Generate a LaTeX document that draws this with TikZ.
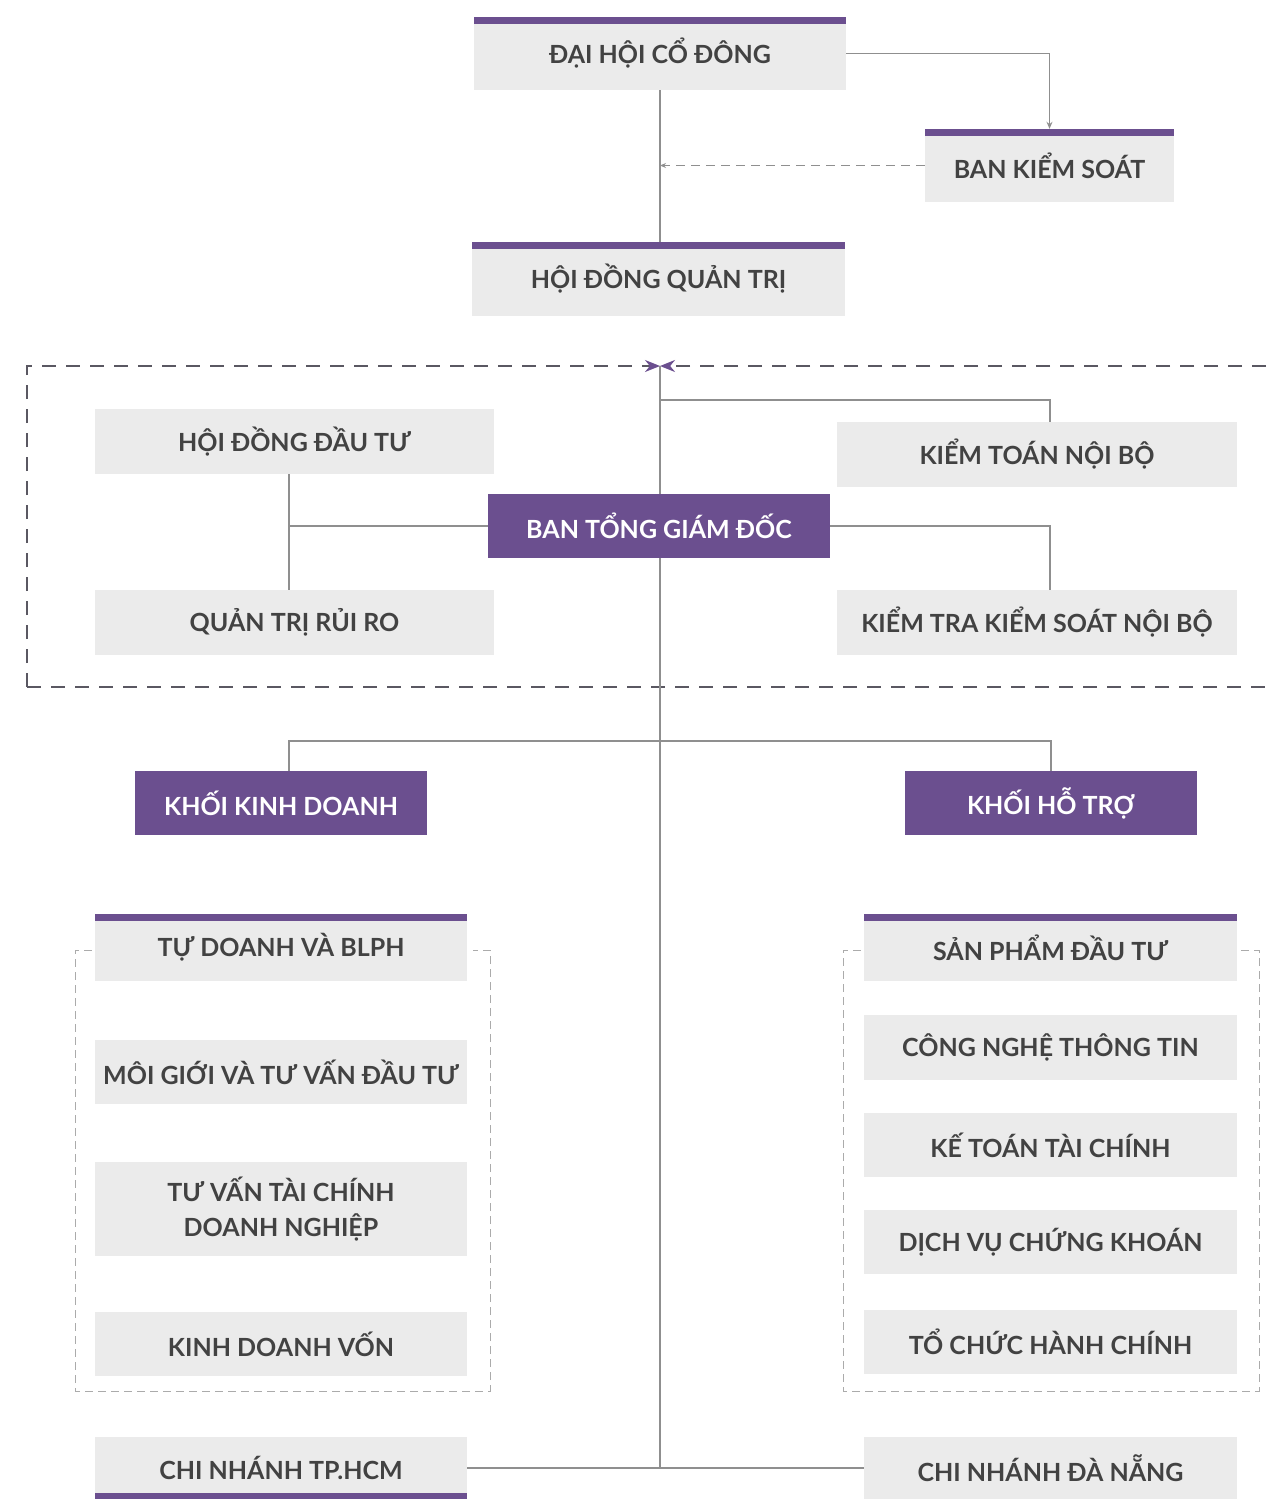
\documentclass[tikz,border=0pt]{standalone}
\usepackage{fontspec}
\setmainfont{Lato}
\usetikzlibrary{arrows.meta}
\definecolor{orgpurple}{HTML}{6B4F8F}
\definecolor{orggray}{HTML}{EBEBEB}
\definecolor{orgtext}{HTML}{424242}
\definecolor{orgline}{HTML}{8F8F8F}
\definecolor{orgframe}{HTML}{5A5862}
\definecolor{orgdash}{HTML}{ABABAB}

\begin{document}
\begin{tikzpicture}[x=1pt,y=-1pt,
  box/.style={fill=orggray, text=orgtext, inner sep=0pt, align=center,
    font=\fontsize{25}{35}\selectfont\bfseries},
  headbox/.style={box, fill=orgpurple, text=white},
  topbar/.style={path picture={\fill[orgpurple] (path picture bounding box.north west)
    rectangle ([yshift=-7pt]path picture bounding box.north east);}},
  bottombar/.style={path picture={\fill[orgpurple] (path picture bounding box.south west)
    rectangle ([yshift=6pt]path picture bounding box.south east);}},
  conn/.style={draw=orgline, line width=1.2pt},
  frame/.style={draw=orgframe, line width=2pt, dash pattern=on 14pt off 10pt},
  group/.style={draw=orgdash, line width=1pt, dash pattern=on 8pt off 5pt}]
  \useasboundingbox (0,0) rectangle (1269,1499);
  \clip (0,0) rectangle (1269,1499);

  % governance
  \node[box, topbar, minimum width=372pt, minimum height=73pt] (dhcd) at (660,53.5) {ĐẠI HỘI CỔ ĐÔNG};
  \node[box, topbar, minimum width=249pt, minimum height=73pt] (bks) at (1049.5,165.5) {BAN KIỂM SOÁT};
  \node[box, topbar, minimum width=373pt, minimum height=74pt] (hdqt) at (658.5,279) {HỘI ĐỒNG QUẢN TRỊ};

  \draw[conn, -{Stealth[length=7pt,width=6pt]}] (dhcd.east) -| (bks.north);
  \draw[conn] (dhcd.south) -- (dhcd.south |- hdqt.north);
  \draw[conn, dash pattern=on 9pt off 6pt, -{Stealth[length=6pt,width=5pt]}] (bks.west) -- (bks.west -| dhcd.south);

  % executive block
  \coordinate (gate) at (660,366);
  \coordinate (spineA) at (660,400);
  \coordinate (spineB) at (660,741);
  \node[box, minimum width=399pt, minimum height=65pt] (hddt) at (294.5,441.5) {HỘI ĐỒNG ĐẦU TƯ};
  \node[box, minimum width=399pt, minimum height=65pt] (qtrr) at (294.5,622.5) {QUẢN TRỊ RỦI RO};
  \node[box, minimum width=400pt, minimum height=65pt] (ktnb) at (1037,454.5) {KIỂM TOÁN NỘI BỘ};
  \node[box, minimum width=400pt, minimum height=65pt] (ktks) at (1037,622.5) {KIỂM TRA KIỂM SOÁT NỘI BỘ};

  \draw[frame, -{Stealth[length=15pt,width=12pt,color=orgpurple]}] (27,687) -- (27,366) -- (gate);
  \draw[frame, -{Stealth[length=15pt,width=12pt,color=orgpurple]}] (1290,366) -- (gate);
  \draw[frame] (27,687) -- (1290,687);

  \draw[conn] (gate) -- (gate |- 0,1468) coordinate (spineC);
  \draw[conn] (spineA) -| ([xshift=13pt]ktnb.north);
  \draw[conn] ([xshift=-5.5pt]hddt.south) -- ([xshift=-5.5pt]qtrr.north);
  \node[headbox, minimum width=342pt, minimum height=64pt] (btgd) at (659,526) {BAN TỔNG GIÁM ĐỐC};
  \draw[conn] (btgd.west) -- (btgd.west -| 289,0);
  \draw[conn] (btgd.east) -| ([xshift=13pt]ktks.north);

  % divisions
  \node[headbox, minimum width=292pt, minimum height=64pt] (kkd) at (281,803) {KHỐI KINH DOANH};
  \node[headbox, minimum width=292pt, minimum height=64pt] (kht) at (1051,803) {KHỐI HỖ TRỢ};
  \draw[conn] ([xshift=8pt]kkd.north) |- (spineB) -| (kht.north);

  \node[box, topbar, minimum width=372pt, minimum height=67pt] (tdbl) at (281,947.5) {TỰ DOANH VÀ BLPH};
  \node[box, minimum width=372pt, minimum height=64pt] (mgtv) at (281,1072) {MÔI GIỚI VÀ TƯ VẤN ĐẦU TƯ};
  \node[box, minimum width=372pt, minimum height=94pt] (tvtc) at (281,1209) {TƯ VẤN TÀI CHÍNH\\DOANH NGHIỆP};
  \node[box, minimum width=372pt, minimum height=64pt] (kdv) at (281,1344) {KINH DOANH VỐN};
  \draw[group] (92,950) -| (75,1391) -- (490,1391) |- (473,950);

  \node[box, topbar, minimum width=373pt, minimum height=67pt] (spdt) at (1050.5,947.5) {SẢN PHẨM ĐẦU TƯ};
  \node[box, minimum width=373pt, minimum height=65pt] (cntt) at (1050.5,1047.5) {CÔNG NGHỆ THÔNG TIN};
  \node[box, minimum width=373pt, minimum height=64pt] (kttc) at (1050.5,1145) {KẾ TOÁN TÀI CHÍNH};
  \node[box, minimum width=373pt, minimum height=64pt] (dvck) at (1050.5,1242) {DỊCH VỤ CHỨNG KHOÁN};
  \node[box, minimum width=373pt, minimum height=64pt] (tchc) at (1050.5,1342) {TỔ CHỨC HÀNH CHÍNH};
  \draw[group] (861,950) -| (843,1391) -- (1259,1391) |- (1241,950);

  % branches
  \node[box, bottombar, minimum width=372pt, minimum height=62pt] (cnhcm) at (281,1468) {CHI NHÁNH TP.HCM};
  \node[box, minimum width=373pt, minimum height=62pt] (cndn) at (1050.5,1468) {CHI NHÁNH ĐÀ NẴNG};
  \draw[conn] (cnhcm.east) -- (cndn.west);
\end{tikzpicture}
\end{document}
